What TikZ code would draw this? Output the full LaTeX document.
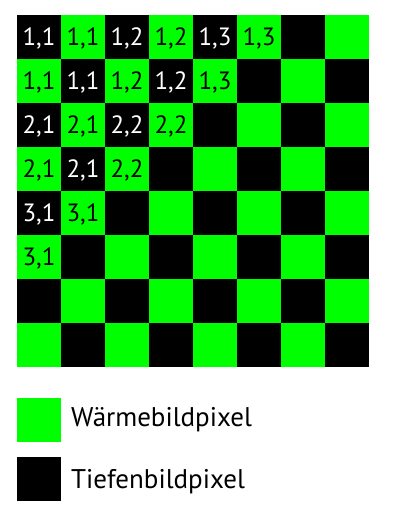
\documentclass[tikz,border=0pt]{standalone}
\usepackage{fontspec}
\setmainfont{PT Sans}
\definecolor{waerme}{RGB}{0,255,0}
\tikzset{
  pixel/.style={minimum size=44pt, inner sep=0pt, outer sep=0pt},
  nummer/.style={inner sep=0pt, font=\fontsize{25}{25}\selectfont, text height=17.5pt, text depth=0pt},
  legende/.style={inner sep=0pt, anchor=base west, font=\fontsize{27}{27}\selectfont}
}
\begin{document}
\begin{tikzpicture}[x=1pt,y=-1pt]
  \useasboundingbox (0,0) rectangle (406,515);
  % Raster 8x8
  \foreach \r in {0,...,7}
    \foreach \c in {0,...,7}{
      \pgfmathtruncatemacro\odd{mod(\r+\c,2)}
      \ifnum\odd=0 \def\cellfill{black}\else\def\cellfill{waerme}\fi
      \node[pixel, fill=\cellfill] (p-\r-\c) at (39+44*\c, 37+44*\r) {};
    }
  % Zuordnung
  \foreach \r/\c/\t in {0/0/{1,1}, 0/1/{1,1}, 0/2/{1,2}, 0/3/{1,2}, 0/4/{1,3}, 0/5/{1,3},
                        1/0/{1,1}, 1/1/{1,1}, 1/2/{1,2}, 1/3/{1,2}, 1/4/{1,3},
                        2/0/{2,1}, 2/1/{2,1}, 2/2/{2,2}, 2/3/{2,2},
                        3/0/{2,1}, 3/1/{2,1}, 3/2/{2,2},
                        4/0/{3,1}, 4/1/{3,1},
                        5/0/{3,1}}{
      \pgfmathtruncatemacro\odd{mod(\r+\c,2)}
      \ifnum\odd=0 \def\numcol{white}\else\def\numcol{black}\fi
      \node[nummer, text=\numcol] (n-\r-\c) at (p-\r-\c) {\t};
    }
  % Legende
  \node[pixel, fill=waerme] (lw) at (39,420) {};
  \node[pixel, fill=black] (lt) at (39,479) {};
  \node[legende] (tw) at (71,426) {Wärmebildpixel};
  \node[legende] (tt) at (71,488) {Tiefenbildpixel};
\end{tikzpicture}
\end{document}
